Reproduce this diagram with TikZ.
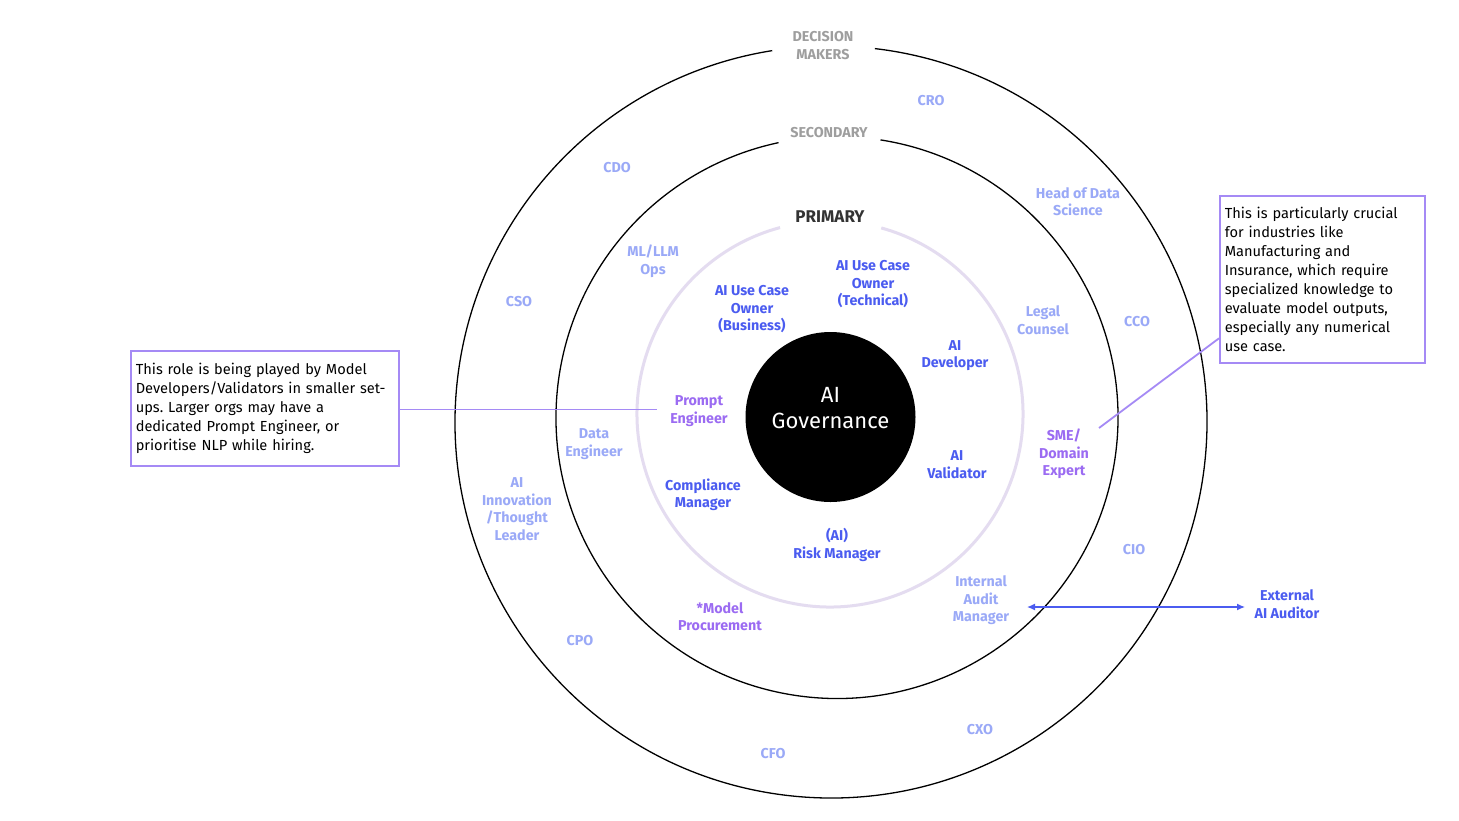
\documentclass[tikz,border=0pt]{standalone}
\usepackage{fontspec}
\setmainfont{Fira Sans}
\usetikzlibrary{arrows.meta}
\definecolor{blueA}{HTML}{4B5CF0}
\definecolor{lightB}{HTML}{9AA9F7}
\definecolor{purp}{HTML}{9B6BF2}
\definecolor{grayT}{HTML}{9E9E9E}
\definecolor{primT}{HTML}{333333}
\definecolor{ringC}{HTML}{E4DCF0}
\definecolor{boxC}{HTML}{A58AF5}
\frenchspacing
\begin{document}
\begin{tikzpicture}[x=1pt,y=-1pt,
  lbl/.style={font=\fontsize{14.3}{17.5}\selectfont\bfseries, align=center, inner sep=0pt},
  prim/.style={lbl, text=blueA},
  sec/.style={lbl, text=lightB},
  pur/.style={lbl, text=purp},
  head/.style={lbl, text=grayT},
  ringline/.style={line width=1.3pt, black},
  callout/.style={draw=boxC, line width=1.6pt, align=left, inner xsep=5pt,
    font=\fontsize{14.6}{19}\selectfont, anchor=north west},
  leader/.style={draw=boxC, line width=1.8pt}
]
\useasboundingbox[fill=white] (0,0) rectangle (1459,820);

% outer circle (decision makers)
\coordinate (co) at (831,422);
\draw[ringline] (co) ++(276.7:376) arc[start angle=276.7, end angle=621, radius=376];
% middle circle (secondary)
\coordinate (cm) at (837,417.5);
\draw[ringline] (cm) ++(278.9:281) arc[start angle=278.9, end angle=618, radius=281];
% inner ring (primary)
\coordinate (ci) at (830,414);
\draw[ringC, line width=3pt] (ci) ++(285.4:193) arc[start angle=285.4, end angle=615, radius=193];
% core disk
\fill[black] (830.5,417) circle[radius=85];
\node[text=white, font=\fontsize{22}{26}\selectfont, align=center, inner sep=0pt] (core) at (830.5,408) {AI\\Governance};

% ring headings
\node[head] (dm) at (823,45.5) {DECISION\\MAKERS};
\node[head] (sc) at (829,133) {SECONDARY};
\node[lbl, text=primT, font=\fontsize{17}{19}\selectfont\bfseries] (pr) at (830,217) {PRIMARY};

% decision makers
\node[sec] (cro) at (931,101) {CRO};
\node[sec] (cdo) at (617,168) {CDO};
\node[sec] (cso) at (519,302) {CSO};
\node[sec] (cco) at (1137,322) {CCO};
\node[sec] (cio) at (1134,550) {CIO};
\node[sec] (cpo) at (580,641) {CPO};
\node[sec] (cxo) at (980,730) {CXO};
\node[sec] (cfo) at (773,754) {CFO};
\node[sec] (ail) at (517,509) {AI\\Innovation\\/Thought\\Leader};

% secondary
\node[sec] (hds) at (1078,201.5) {Head of Data\\Science};
\node[sec] (mlo) at (653,261) {ML/LLM\\Ops};
\node[sec] (lgc) at (1043,320) {Legal\\Counsel};
\node[sec] (den) at (594,444) {Data\\Engineer};
\node[sec] (iam) at (981,600.5) {Internal\\Audit\\Manager};
\node[pur] (sme) at (1064,454) {SME/\\Domain\\Expert};
\node[pur] (mpr) at (720,616.5) {*Model\\Procurement};

% primary
\node[prim] (ucb) at (752,309.5) {AI Use Case\\Owner\\(Business)};
\node[prim] (uct) at (873,284.5) {AI Use Case\\Owner\\(Technical)};
\node[prim] (dev) at (955,355.5) {AI\\Developer};
\node[pur] (pen) at (699,411) {Prompt\\Engineer};
\node[prim] (val) at (957,464.5) {AI\\Validator};
\node[prim] (cmp) at (703,495) {Compliance\\Manager};
\node[prim] (rsk) at (837,545) {(AI)\\Risk Manager};

% external auditor
\node[prim] (ext) at (1287,604) {External\\AI Auditor};
\coordinate (extL) at (1027,607);
\coordinate (extR) at (1245,607);
\draw[blueA, line width=1.3pt, {Latex[length=8pt,width=7pt]}-{Latex[length=8pt,width=7pt]}] (extL) -- (extR);

% callouts
\node[callout, minimum width=268pt, minimum height=115pt, text width=258pt] (lbox) at (130,350)
 {This role is being played by Model\\Developers/Validators in smaller set-\\ups. Larger orgs may have a\\dedicated Prompt Engineer, or\\prioritise NLP while hiring.};
\node[callout, minimum width=205pt, minimum height=167pt, text width=195pt] (rbox) at (1219,195)
 {This is particularly crucial\\for industries like\\Manufacturing and\\Insurance, which require\\specialized knowledge to\\evaluate model outputs,\\especially any numerical\\use case.};

\coordinate (penL) at (657,409.5);
\draw[leader] (lbox.east |- penL) -- (penL);
\coordinate (smeR) at (1099,428);
\draw[leader] (smeR) -- ([yshift=-59pt]rbox.west);
\end{tikzpicture}
\end{document}
